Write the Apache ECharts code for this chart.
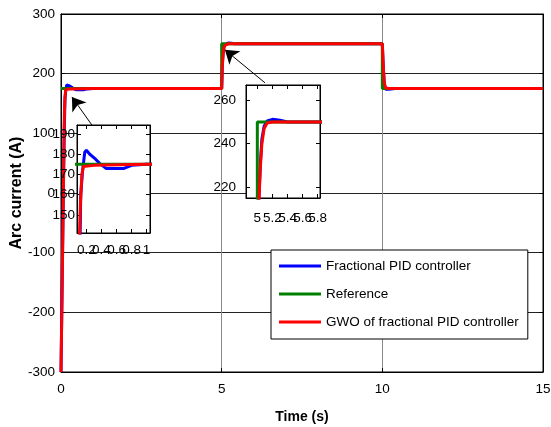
<!DOCTYPE html>
<html>
<head>
<meta charset="utf-8">
<script src="https://cdn.jsdelivr.net/npm/echarts@6/dist/echarts.min.js"></script>
<style>html,body{margin:0;padding:0;background:#fff;}#c{width:551px;height:427px;}</style>
</head>
<body>
<div id="c"></div>
<script>
// ---- data ----
const seriesNames = ['Fractional PID controller', 'Reference', 'GWO of fractional PID controller'];
const refT = [0, 5, 5, 10, 10, 15];
const refV = [175, 175, 250, 250, 175, 175];
const fpidT = [0, 0.06, 0.1, 0.125, 0.147, 0.178, 0.2, 0.245, 0.31, 0.375, 0.46, 0.7, 0.8, 1.0, 5.0, 5.02, 5.04, 5.06, 5.09, 5.13, 5.2, 5.3, 5.4, 10.0, 10.03, 10.06, 10.1, 10.2, 10.4, 15];
const fpidV = [-300, -50, 100, 160, 171, 181, 182, 180, 178, 175.5, 173, 173, 174.5, 175, 175, 214, 231, 242, 248, 250.5, 251.2, 250.8, 250, 250, 210, 183, 174, 174, 175, 175];
const gwoT = [0, 0.05, 0.1, 0.11, 0.12, 0.14, 0.16, 0.3, 1.0, 5.0, 5.02, 5.04, 5.06, 5.09, 5.13, 5.2, 10.0, 10.03, 10.06, 10.1, 10.2, 15];
const gwoV = [-300, -100, 115, 141, 155, 170, 174, 174.5, 175, 175, 212, 229, 240, 247, 249.5, 250, 250, 212, 185, 176, 175, 175];
const mainXTicks = [0, 5, 10, 15];
const mainYTicks = [-300, -200, -100, 0, 100, 200, 300];
const inset1XTicks = [0.2, 0.4, 0.6, 0.8, 1];
const inset1YTicks = [150, 160, 170, 180, 190];
const inset2XTicks = [5, 5.2, 5.4, 5.6, 5.8];
const inset2YTicks = [220, 240, 260];
const arrowTail = [[0.96, 114], [6.35, 184.6]];
const arrowHead = [[0.34, 161], [5.1, 240]];

// ---- helpers ----
const pairs = (t, v) => t.map((x, i) => [x, v[i]]);
const evens = a => a.filter((_, i) => i % 2 === 0);
const odds = a => a.filter((_, i) => i % 2 === 1);
const colors = ['#0000ff', '#008000', '#ff0000'];
const dataSets = [pairs(fpidT, fpidV), pairs(refT, refV), pairs(gwoT, gwoV)];
const FONT = 'Arial, "Liberation Sans", sans-serif';
const FS = 13.5;

function ax(grid, min, max, ticks, labels, pos, margin, z, extra) {
  return Object.assign({
    type: 'value', gridIndex: grid, min: min, max: max, position: pos, z: z,
    axisLine: {show: true, onZero: false, lineStyle: {color: '#000', width: 1}},
    axisTick: {show: true, inside: true, length: 4, customValues: ticks, lineStyle: {color: '#000'}},
    axisLabel: {show: !!labels, customValues: labels || ticks, margin: margin, color: '#000', fontSize: FS, fontFamily: FONT,
      showMinLabel: true, showMaxLabel: true, hideOverlap: false, formatter: v => String(v)},
    splitLine: {show: false}
  }, extra || {});
}
const labelOnly = {axisLine: {show: false}, axisTick: {show: false}};
const hidden = {show: false};

const xAxes = [
  ax(0, 0, 15, mainXTicks, mainXTicks, 'bottom', 10, 1, {
    name: 'Time (s)', nameLocation: 'middle', nameGap: 38, nameMoveOverlap: false,
    nameTextStyle: {fontSize: 14, fontWeight: 'bold', color: '#000', fontFamily: FONT},
    splitLine: {show: true, lineStyle: {color: '#888', width: 1}}
  }),
  ax(0, 0, 15, mainXTicks, null, 'top', 0, 1),
  ax(1, 0.075, 1.045, inset1XTicks, evens(inset1XTicks), 'bottom', 10, 11),
  ax(1, 0.075, 1.045, inset1XTicks, null, 'top', 0, 11),
  ax(2, 4.85, 5.83, inset2XTicks, evens(inset2XTicks), 'bottom', 13, 11),
  ax(2, 4.85, 5.83, inset2XTicks, null, 'top', 0, 11),
  ax(3, 0.075, 1.045, inset1XTicks, odds(inset1XTicks), 'bottom', 10, 11, labelOnly),
  ax(4, 4.85, 5.83, inset2XTicks, odds(inset2XTicks), 'bottom', 13, 11, labelOnly)
];
const yAxes = [
  ax(0, -300, 300, mainYTicks, mainYTicks, 'left', 6, 1, {
    name: 'Arc current (A)', nameLocation: 'middle', nameGap: 36, nameMoveOverlap: false,
    nameTextStyle: {fontSize: 16, fontWeight: 'bold', color: '#000', fontFamily: FONT},
    splitLine: {show: true, lineStyle: {color: '#222', width: 1}}
  }),
  ax(0, -300, 300, mainYTicks, null, 'right', 0, 1),
  ax(1, 141, 194.5, inset1YTicks, inset1YTicks, 'left', 2, 11),
  ax(1, 141, 194.5, inset1YTicks, null, 'right', 0, 11),
  ax(2, 215, 267, inset2YTicks, inset2YTicks, 'left', 10, 11),
  ax(2, 215, 267, inset2YTicks, null, 'right', 0, 11),
  ax(3, 141, 194.5, inset1YTicks, null, 'left', 0, 11, hidden),
  ax(4, 215, 267, inset2YTicks, null, 'left', 0, 11, hidden)
];

const series = [];
// main plot
dataSets.forEach((d, i) => {
  const s = {
    name: seriesNames[i], type: 'line', xAxisIndex: 0, yAxisIndex: 0, data: d,
    showSymbol: false, symbol: 'none', animation: false, z: 2,
    lineStyle: {color: colors[i], width: 3}, itemStyle: {color: colors[i]}
  };
  if (i === 2) {
    s.markLine = {
      silent: true, animation: false, symbol: ['none', 'arrow'], symbolSize: 13,
      lineStyle: {color: '#000', width: 1, type: 'solid'}, label: {show: false},
      itemStyle: {color: '#000'},
      data: arrowTail.map((t, k) => [{coord: t}, {coord: arrowHead[k]}])
    };
  }
  series.push(s);
});
// insets
[[2, 2], [4, 4]].forEach(([xi, yi]) => {
  dataSets.forEach((d, i) => {
    series.push({
      name: seriesNames[i], type: 'line', xAxisIndex: xi, yAxisIndex: yi, data: d,
      showSymbol: false, symbol: 'none', animation: false, z: 12, clip: true,
      lineStyle: {color: colors[i], width: 3}, itemStyle: {color: colors[i]}
    });
  });
});

const gridBase = {show: true, borderColor: '#000', borderWidth: 1, backgroundColor: '#fff', outerBoundsMode: 'none', containLabel: false};
const inset1Box = {left: 77, top: 125, width: 73, height: 108};
const inset2Box = {left: 246, top: 85, width: 74, height: 113};
const chart = echarts.init(document.getElementById('c'), null, {renderer: 'canvas'});
chart.setOption({
  animation: false,
  backgroundColor: '#fff',
  grid: [
    Object.assign({left: 61, top: 14, right: 8, bottom: 55, z: 0}, gridBase),
    Object.assign({z: 10}, inset1Box, gridBase),
    Object.assign({z: 10}, inset2Box, gridBase),
    Object.assign({z: 11}, inset1Box, gridBase, {show: false}),
    Object.assign({z: 11}, inset2Box, gridBase, {show: false})
  ],
  legend: {
    data: seriesNames, orient: 'vertical', left: 271, top: 250,
    padding: [9, 9, 10, 8], itemGap: 14, itemWidth: 42, itemHeight: 3, itemTextGap: 4,
    icon: 'rect', borderColor: '#000', borderWidth: 1, backgroundColor: '#fff', z: 20,
    textStyle: {fontSize: FS, color: '#000', fontFamily: FONT}
  },
  xAxis: xAxes,
  yAxis: yAxes,
  series: series
});
</script>
</body>
</html>
